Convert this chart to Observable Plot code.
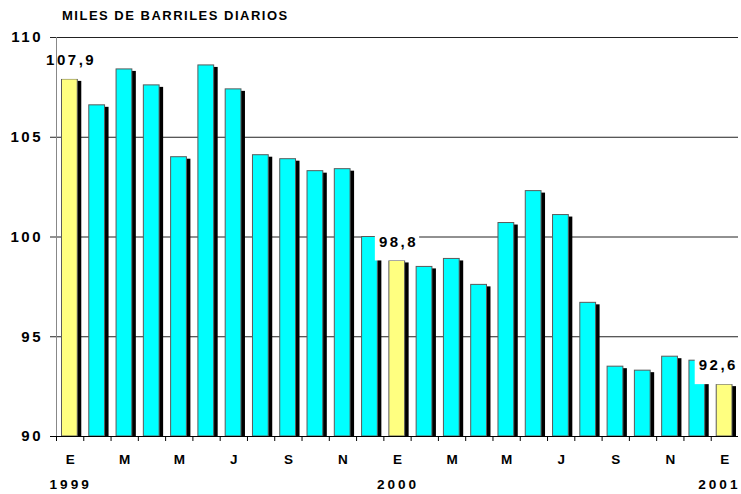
<!DOCTYPE html>
<html>
<head>
<meta charset="utf-8">
<script src="https://cdn.jsdelivr.net/npm/d3@7"></script>
<script src="https://cdn.jsdelivr.net/npm/@observablehq/plot@0.6"></script>
<style>
  html, body { margin: 0; padding: 0; background: #fff; }
</style>
</head>
<body>
<script>
// ---- data ----
const title = "MILES DE BARRILES DIARIOS";
const monthLetters = ["E","F","M","A","M","J","J","A","S","O","N","D",
                      "E","F","M","A","M","J","J","A","S","O","N","D","E"];
const values = [107.9, 106.6, 108.4, 107.6, 104.0, 108.6, 107.4, 104.1, 103.9, 103.3, 103.4, 100.0,
                98.8, 98.5, 98.9, 97.6, 100.7, 102.3, 101.1, 96.7, 93.5, 93.3, 94.0, 93.8, 92.6];
const highlighted = [0, 12, 24];
const yearLabels = [{i: 0, year: "1999"}, {i: 12, year: "2000"}, {i: 24, year: "2001"}];
const labelledBars = [0, 12, 24];
const yDomain = [90, 110];
const yTicks = [90, 95, 100, 105, 110];

// ---- derived tables ----
const data = values.map((v, i) => ({i, v, hi: highlighted.includes(i)}));
const monthTicks = monthLetters.map((m, i) => ({i, m})).filter(d => d.i % 2 === 0);
const valueLabels = labelledBars.map(i => ({i, v: values[i], text: values[i].toFixed(1).replace(".", ",")}));

// ---- layout ----
const W = 741, H = 494, mL = 56, mR = 3, mT = 37, mB = 58;
const bw = (W - mL - mR) / values.length;
const font = "'Liberation Sans', Arial, Helvetica, sans-serif";
const lastIdx = values.length - 1;
const labelShift = d => (d.i === lastIdx ? -7.5 : 0);

const marks = [
  // gridlines (above baseline)
  Plot.ruleY(yTicks.filter(t => t > yDomain[0]), {y: d => d, stroke: "#222", strokeWidth: 1, insetLeft: -6}),
  // shadows
  Plot.barY(data, {x: "i", y1: yDomain[0], y2: "v", fill: "black", insetLeft: 5.5, insetRight: 6, dx: 4, dy: 2, clip: true}),
  // bars
  Plot.barY(data, {x: "i", y1: yDomain[0], y2: "v", fill: d => d.hi ? "#ffff80" : "#00ffff",
                   stroke: "#5a5a5a", strokeWidth: 1, insetLeft: 5.5, insetRight: 6}),
  // white boxes behind value labels
  ...valueLabels.map(d => Plot.barY([d], {x: "i", y1: "v", y2: e => e.v + 1.55, fill: "white",
                   insetLeft: -8.5, insetRight: -8.5, dx: labelShift(d)})),
  // value labels
  ...valueLabels.map(d => Plot.text([d], {x: "i", y: "v", text: "text", dy: -19, dx: labelShift(d) + 1,
                   fontSize: 15, fontWeight: "bold", fill: "black"})),
  // y axis line (gray)
  Plot.ruleX([0], {x: d => d, y1: yDomain[0], y2: yDomain[1], dx: -bw / 2, stroke: "#888"}),
  // baseline
  Plot.ruleY([yDomain[0]], {y: d => d, stroke: "black", strokeWidth: 1, insetLeft: -6}),
  // bottom ticks at category boundaries
  Plot.ruleX(data, {x: "i", y1: yDomain[0], y2: yDomain[0], insetBottom: -5, dx: -bw / 2, stroke: "black"}),
  // y tick labels
  Plot.text(yTicks, {y: d => d, text: d => String(d), frameAnchor: "left", textAnchor: "end", dx: -13.5,
                     fontSize: 15, fontWeight: "bold", fill: "black"}),
  // month labels
  Plot.text(monthTicks, {x: "i", text: "m", frameAnchor: "bottom", dy: 27.5, dx: 2,
                         fontSize: 13.5, fontWeight: "bold", fill: "black"}),
  // year labels (last one kept inside the right edge)
  ...yearLabels.map(d => Plot.text([d], {x: "i", text: "year", frameAnchor: "bottom", dy: 52,
                         dx: d.i === lastIdx ? -5.5 : 0.5,
                         fontSize: 13.6, fontWeight: "bold", fill: "black"})),
  // title
  Plot.text([title], {text: d => d, frameAnchor: "top-left", textAnchor: "start", lineAnchor: "middle",
                      dx: 5.5, dy: -22, fontSize: 13, fontWeight: "bold", fill: "black"})
];

const chart = Plot.plot({
  width: W, height: H,
  marginLeft: mL, marginRight: mR, marginTop: mT, marginBottom: mB,
  x: {type: "band", domain: d3.range(values.length), padding: 0, round: false, axis: null},
  y: {domain: yDomain, axis: null},
  style: {fontFamily: font, background: "white", color: "black", overflow: "visible"},
  marks
});

// letter spacing per text size (Excel-like wide spacing)
chart.querySelectorAll("text").forEach(t => {
  const fs = parseFloat(t.closest("g").getAttribute("font-size") || t.getAttribute("font-size") || 10);
  let ls = 2;
  if (fs === 13) ls = 1.5;
  else if (fs === 13.5) ls = 4;
  else if (fs === 13.6) ls = 3;
  else if (fs === 15) ls = 2.5;
  t.style.letterSpacing = ls + "px";
});

document.body.append(chart);
</script>
</body>
</html>
